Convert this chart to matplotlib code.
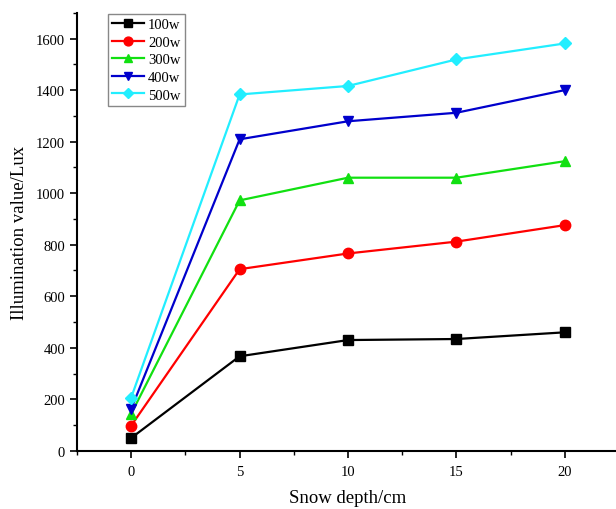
import numpy as np
import matplotlib.pyplot as plt
from matplotlib.ticker import MultipleLocator

plt.rcParams['font.family'] = ['Liberation Serif', 'DejaVu Serif']

depth = [0, 5, 10, 15, 20]
labels = ['100w', '200w', '300w', '400w', '500w']
lux_100 = [50, 367, 430, 434, 460]
lux_200 = [98, 705, 766, 812, 876]
lux_300 = [144, 972, 1060, 1060, 1124]
lux_400 = [163, 1209, 1279, 1312, 1400]
lux_500 = [207, 1383, 1416, 1519, 1581]

series = [lux_100, lux_200, lux_300, lux_400, lux_500]
colors = ['black', '#ff0000', '#11e011', '#0000cc', '#22eeff']
markers = ['s', 'o', '^', 'v', 'D']
msizes = [6.5, 7.5, 7.5, 7.5, 6.5]

fig = plt.figure(figsize=(6.16, 5.1), dpi=100)
ax = fig.add_axes([0.125, 0.114, 0.88, 0.859])

for vals, lab, c, m, ms in zip(series, labels, colors, markers, msizes):
    ax.plot(depth, vals, color=c, marker=m, markersize=ms, lw=1.6, label=lab)

ax.set_xlim(-2.5, 22.5)
ax.set_ylim(0, 1700)
ax.xaxis.set_major_locator(MultipleLocator(5))
ax.xaxis.set_minor_locator(MultipleLocator(2.5))
ax.yaxis.set_major_locator(MultipleLocator(200))
ax.yaxis.set_minor_locator(MultipleLocator(100))
ax.set_yticks(np.arange(0, 1601, 200))
ax.tick_params(which='major', length=5, width=1.2, labelsize=10.5, direction='out')
ax.tick_params(which='minor', length=3, width=1.0, direction='out')
ax.tick_params(axis='x', pad=5)

ax.spines['top'].set_visible(False)
ax.spines['right'].set_visible(False)
ax.spines['left'].set_linewidth(1.5)
ax.spines['bottom'].set_linewidth(1.5)

ax.set_xlabel('Snow depth/cm', fontsize=13.5, labelpad=8)
ax.set_ylabel('Illumination value/Lux', fontsize=13.5, labelpad=6)

leg = ax.legend(loc='upper left', bbox_to_anchor=(0.057, 0.998), fontsize=10.5,
                fancybox=False, edgecolor='#888888', framealpha=1,
                handlelength=2.2, handletextpad=0.25, labelspacing=0.3,
                borderpad=0.3, borderaxespad=0, markerscale=0.85)
leg.get_frame().set_linewidth(1.0)

fig.savefig('out.png', dpi=100)
